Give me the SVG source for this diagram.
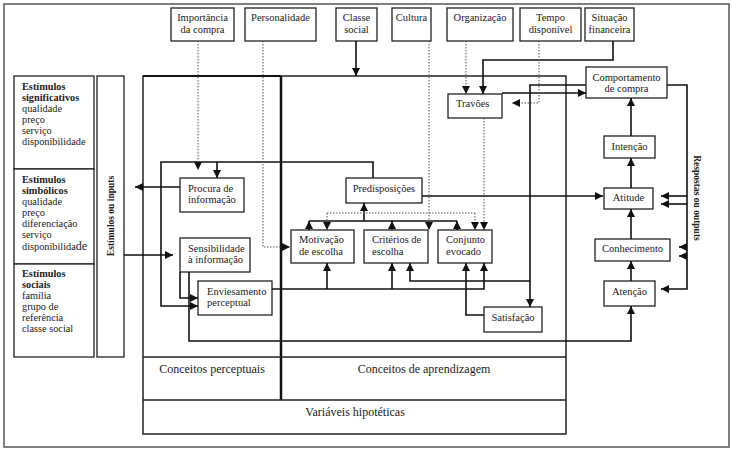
<svg xmlns="http://www.w3.org/2000/svg" width="732" height="449" viewBox="0 0 732 449">
<style>
.b{fill:#fff;stroke:#222;stroke-width:1.3}
.f{fill:none;stroke:#222;stroke-width:1.5}
.t{font-family:"Liberation Serif","Times New Roman",serif;font-size:10.5px;fill:#222}
.c{text-anchor:middle}
.s{font-family:"Liberation Serif","Times New Roman",serif;font-size:10.3px;fill:#222}
.bd{font-weight:bold}
.l{fill:none;stroke:#111;stroke-width:1.6}
.d{fill:none;stroke:#555;stroke-width:1;stroke-dasharray:1.5 1.5}
.big{font-family:"Liberation Serif","Times New Roman",serif;font-size:12px;fill:#222;text-anchor:middle}
</style>
<defs>
<marker id="a" viewBox="0 0 10 10" refX="10" refY="5" markerWidth="8" markerHeight="8" markerUnits="userSpaceOnUse" orient="auto"><path d="M0,0 L10,5 L0,10 z" fill="#111"/></marker>
</defs>
<rect x="0" y="0" width="732" height="449" fill="#fff"/>
<rect x="4" y="4" width="725" height="443" fill="none" stroke="#555" stroke-width="1.5"/>

<g id="frame">
<rect x="143" y="76" width="423" height="358" class="f"/>
<line x1="281" y1="76" x2="281" y2="400" stroke="#111" stroke-width="2.5"/>
<line x1="143" y1="76" x2="281" y2="76" stroke="#111" stroke-width="2"/>
<line x1="143" y1="357" x2="566" y2="357" class="f"/>
<line x1="143" y1="400" x2="566" y2="400" class="f"/>
<text x="212" y="373" class="big">Conceitos perceptuais</text>
<text x="424" y="373" class="big">Conceitos de aprendizagem</text>
<text x="355" y="416" class="big">Variáveis hipotéticas</text>
</g>

<g id="top-importancia"><rect x="171" y="8" width="63" height="33" class="b"/><text class="t c" x="202.5" y="20.5">Importância</text><text class="t c" x="202.5" y="32.5">da compra</text></g>
<g id="top-personalidade"><rect x="245" y="8" width="71" height="33" class="b"/><text class="t c" x="280.5" y="20.5">Personalidade</text></g>
<g id="top-classe"><rect x="336" y="8" width="41" height="33" class="b"/><text class="t c" x="356.5" y="20.5">Classe</text><text class="t c" x="356.5" y="32.5">social</text></g>
<g id="top-cultura"><rect x="392" y="8" width="39" height="33" class="b"/><text class="t c" x="411.5" y="20.5">Cultura</text></g>
<g id="top-organizacao"><rect x="447" y="8" width="66" height="33" class="b"/><text class="t c" x="480" y="20.5">Organização</text></g>
<g id="top-tempo"><rect x="520" y="8" width="61" height="33" class="b"/><text class="t c" x="550.5" y="20.5">Tempo</text><text class="t c" x="550.5" y="32.5">disponível</text></g>
<g id="top-situacao"><rect x="585" y="8" width="49" height="33" class="b"/><text class="t c" x="609.5" y="20.5">Situação</text><text class="t c" x="609.5" y="32.5">financeira</text></g>

<g id="estimulos-significativos"><rect x="14" y="76" width="80" height="93" class="b"/>
<text class="s bd" x="22" y="89.5">Estímulos</text><text class="s bd" x="22" y="100.5">significativos</text>
<text class="s" x="22" y="111.5">qualidade</text><text class="s" x="22" y="122.5">preço</text><text class="s" x="22" y="133.5">serviço</text><text class="s" x="22" y="144.5">disponibilidade</text></g>
<g id="estimulos-simbolicos"><rect x="14" y="169" width="80" height="95" class="b"/>
<text class="s bd" x="22" y="182.5">Estímulos</text><text class="s bd" x="22" y="193.5">simbólicos</text>
<text class="s" x="22" y="204.5">qualidade</text><text class="s" x="22" y="215.5">preço</text><text class="s" x="22" y="226.5">diferenciação</text><text class="s" x="22" y="237.5">serviço</text><text class="s" x="22" y="249.5">disponibilida<tspan font-size="12px">de</tspan></text></g>
<g id="estimulos-sociais"><rect x="14" y="264" width="80" height="93" class="b"/>
<text class="s bd" x="22" y="276.5">Estímulos</text><text class="s bd" x="22" y="287.5">sociais</text>
<text class="s" x="22" y="298.5">família</text><text class="s" x="22" y="309.5">grupo de</text><text class="s" x="22" y="320.5">referência</text><text class="s" x="22" y="331.5">classe social</text></g>
<g id="inputs"><rect x="97" y="76" width="27" height="281" class="b"/>
<text class="t c bd" transform="translate(114,216) rotate(-90)" style="font-size:9.5px">Estímulos ou inputs</text></g>
<g id="outputs"><text class="t c bd" transform="translate(694,198) rotate(90)" style="font-size:9.5px">Respostas ou outputs</text></g>

<g id="travoes"><rect x="448" y="94" width="54" height="24" class="b"/><text class="t" x="456" y="106.5">Travões</text></g>
<g id="comportamento"><rect x="586" y="67" width="81" height="31" class="b"/><text class="t c" x="626.5" y="80.5">Comportamento</text><text class="t c" x="626.5" y="91.5">de compra</text></g>
<g id="intencao"><rect x="604" y="136" width="51" height="22" class="b"/><text class="t c" x="629.5" y="149.5">Intenção</text></g>
<g id="atitude"><rect x="604" y="188" width="49" height="21" class="b"/><text class="t c" x="628.5" y="200.5">Atitude</text></g>
<g id="conhecimento"><rect x="595" y="239" width="75" height="22" class="b"/><text class="t c" x="632.5" y="251.5">Conhecimento</text></g>
<g id="atencao"><rect x="604" y="281" width="51" height="25" class="b"/><text class="t c" x="629.5" y="294.5">Atenção</text></g>
<g id="procura"><rect x="180" y="178" width="64" height="34" class="b"/><text class="t" x="188" y="191.5">Procura de</text><text class="t" x="188" y="202.5">informação</text></g>
<g id="sensibilidade"><rect x="180" y="238" width="70" height="34" class="b"/><text class="t" x="188" y="251.5">Sensibilidade</text><text class="t" x="188" y="262.5">à informação</text></g>
<g id="enviesamento"><rect x="198" y="281" width="74" height="34" class="b"/><text class="t" x="207" y="294.5">Enviesamento</text><text class="t" x="207" y="305.5">perceptual</text></g>
<g id="predisposicoes"><rect x="346" y="178" width="76" height="25" class="b"/><text class="t c" x="384" y="191.5">Predisposições</text></g>
<g id="motivacao"><rect x="291" y="230" width="63" height="33" class="b"/><text class="t" x="299" y="242.5">Motivação</text><text class="t" x="299" y="254.5">de escolha</text></g>
<g id="criterios"><rect x="364" y="230" width="64" height="33" class="b"/><text class="t" x="372" y="242.5">Critérios de</text><text class="t" x="372" y="254.5">escolha</text></g>
<g id="conjunto"><rect x="438" y="230" width="54" height="33" class="b"/><text class="t" x="446" y="242.5">Conjunto</text><text class="t" x="446" y="254.5">evocado</text></g>
<g id="satisfacao"><rect x="484" y="307" width="58" height="25" class="b"/><text class="t c" x="513" y="320.5">Satisfação</text></g>

<g id="connectors">
<path class="l" d="M356,41 V76" marker-end="url(#a)"/>
<path class="l" d="M613,41 V60 H483 V94" marker-end="url(#a)"/>
<path class="l" d="M502,93 H586" marker-end="url(#a)"/>
<path class="l" d="M586,85 H530 V307" marker-end="url(#a)"/>
<path class="l" d="M530,281 H410 V263" marker-end="url(#a)"/>
<path class="l" d="M667,85 H687 V289 H661" marker-end="url(#a)"/>
<path class="l" d="M687,196 H661" marker-end="url(#a)"/>
<path class="l" d="M687,204 H661" marker-end="url(#a)"/>
<path class="l" d="M687,247 H679" marker-end="url(#a)"/>
<path class="l" d="M687,256 H679" marker-end="url(#a)"/>
<path class="l" d="M631,136 V98" marker-end="url(#a)"/>
<path class="l" d="M631,188 V158" marker-end="url(#a)"/>
<path class="l" d="M631,239 V209" marker-end="url(#a)"/>
<path class="l" d="M631,281 V261" marker-end="url(#a)"/>
<path class="l" d="M189,272 V341 H631 V306" marker-end="url(#a)"/>
<path class="l" d="M422,196 H603" marker-end="url(#a)"/>
<path class="l" d="M373,178 V162 H161 V306 H198" marker-end="url(#a)"/>
<path class="l" d="M217,162 V178" marker-end="url(#a)"/>
<path class="l" d="M180,187 H135" marker-end="url(#a)"/>
<path class="l" d="M124,255 H173" marker-end="url(#a)"/>
<path class="l" d="M180,272 V298 H198" marker-end="url(#a)"/>
<path class="l" d="M272,289 H484 V263" marker-end="url(#a)"/>
<path class="l" d="M327,289 V263" marker-end="url(#a)"/>
<path class="l" d="M392,289 V263" marker-end="url(#a)"/>
<path class="l" d="M484,315 H466 V263" marker-end="url(#a)"/>
<path class="l" d="M309,221 H457"/>
<path class="l" d="M309,230 V221" marker-end="url(#a)"/>
<path class="l" d="M392,230 V221" marker-end="url(#a)"/>
<path class="l" d="M457,230 V221" marker-end="url(#a)"/>
<path class="l" d="M364,221 V203" marker-end="url(#a)"/>
<path class="d" d="M198,41 V170" marker-end="url(#a)"/>
<path class="d" d="M263,41 V247 H290" marker-end="url(#a)"/>
<path class="d" d="M429,41 V230" marker-end="url(#a)"/>
<path class="d" d="M327,213 H475"/>
<path class="d" d="M327,213 V230" marker-end="url(#a)"/>
<path class="d" d="M475,213 V230" marker-end="url(#a)"/>
<path class="d" d="M484,118 V230" marker-end="url(#a)"/>
<path class="d" d="M466,41 V94" marker-end="url(#a)"/>
<path class="d" d="M539,41 V103 H512" marker-end="url(#a)"/>
</g>
</svg>
